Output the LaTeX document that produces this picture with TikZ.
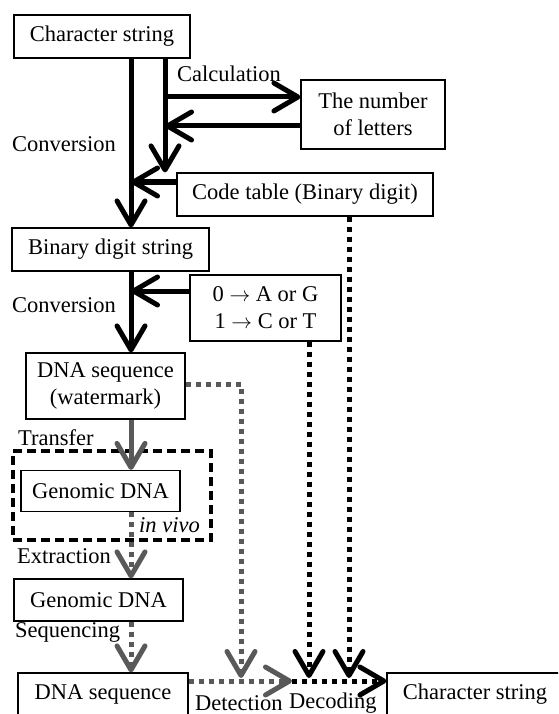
\documentclass[tikz,border=0pt]{standalone}
\usepackage{fontspec}
\setmainfont{Liberation Serif}
\usetikzlibrary{arrows.meta}
\definecolor{gcol}{RGB}{89,89,89}
\begin{document}
\begin{tikzpicture}[x=1pt,y=-1pt,
  box/.style={draw, line width=1.2pt, inner sep=0pt, align=center, font=\fontsize{22.5}{27}\selectfont},
  lbl/.style={anchor=west, inner sep=0pt, font=\fontsize{22.5}{27}\selectfont},
  arr/.style={-{Straight Barb[length=24pt,width=28pt,round]}},
  thk/.style={line width=5pt, draw=black},
  gsolid/.style={line width=5pt, draw=gcol},
  bdot/.style={line width=5pt, dash pattern=on 5pt off 5pt, draw=black},
  gdot/.style={line width=5pt, dash pattern=on 5pt off 5pt, draw=gcol},
]
\useasboundingbox (0,0) rectangle (558,714);
\clip (0,0) rectangle (558,714);

% nodes
\node[box, minimum width=176pt, minimum height=43pt] (cs1) at (102,36.5) {Character string};
\node[box, minimum width=144pt, minimum height=69pt] (nl) at (373,114.5) {The number\\of letters};
\node[box, minimum width=256pt, minimum height=43pt] (ct) at (305,194.5) {Code table (Binary digit)};
\node[box, minimum width=197pt, minimum height=43pt] (bin) at (110.5,249.5) {Binary digit string};
\node[box, minimum width=151pt, minimum height=66pt] (ag) at (265.5,308) {0 $\rightarrow$ A or G\\1 $\rightarrow$ C or T};
\node[box, minimum width=159pt, minimum height=66pt] (wm) at (105.5,386) {DNA sequence\\(watermark)};
\node[draw, line width=3.5pt, dash pattern=on 9pt off 5pt, minimum width=198pt, minimum height=89pt, inner sep=0pt] (vivo) at (112,495.5) {};
\node[box, minimum width=159pt, minimum height=41pt] (gd1) at (100.5,491) {Genomic DNA};
\node[box, minimum width=169pt, minimum height=42pt] (gd2) at (98.5,600) {Genomic DNA};
\node[box, minimum width=170pt, minimum height=43pt] (ds) at (103,694.5) {DNA sequence};
\node[box, minimum width=176pt, minimum height=43pt] (cs2) at (475,694.5) {Character string};

% labels
\node[lbl] (lcalc) at (177,74) {Calculation};
\node[lbl] (lconv1) at (12,144) {Conversion};
\node[lbl] (lconv2) at (12,305) {Conversion};
\node[lbl] (ltrans) at (18,438) {Transfer};
\node[lbl, font=\fontsize{22.5}{27}\selectfont\itshape] (lvivo) at (139,525) {in vivo};
\node[lbl] (lext) at (17,556) {Extraction};
\node[lbl] (lseq) at (15,632) {Sequencing};
\node[lbl] (ldet) at (195,703) {Detection};
\node[lbl] (ldec) at (289,703) {Decoding};

% helper coordinates
\coordinate (m) at (131,0);
\coordinate (v2) at (165,0);
\coordinate (ya) at (0,97);
\coordinate (yb) at (0,126);
\coordinate (yc) at (0,182);
\coordinate (yd) at (0,291);
\coordinate (ye) at (0,384);
\coordinate (yh) at (0,681);
\coordinate (gx) at (241,0);
\coordinate (bx1) at (309,0);
\coordinate (bx2) at (349,0);
\coordinate (tipy) at (0,678);
\coordinate (hm) at (292,681);

% black solid arrows
\draw[thk, arr] (cs1.south -| m) -- (bin.north -| m);
\draw[thk, arr] (cs1.south -| v2) -- (ct.north -| v2);
\draw[thk, arr] (v2 |- ya) -- (nl.west |- ya);
\draw[thk, arr] (nl.west |- yb) -- (v2 |- yb);
\draw[thk, arr] (ct.west |- yc) -- (m |- yc);
\draw[thk, arr] (bin.south -| m) -- (wm.north -| m);
\draw[thk, arr] (ag.west |- yd) -- (m |- yd);

% gray
\draw[gsolid, arr] (wm.south -| m) -- (gd1.north -| m);
\draw[gdot, arr] (gd1.south -| m) -- (gd2.north -| m);
\draw[gdot, arr] (gd2.south -| m) -- (ds.north -| m);
\draw[gdot, arr] (wm.east |- ye) -- (gx |- ye) -- (gx |- tipy);
\draw[gdot, arr] (ds.east |- yh) -- (hm);

% black dotted
\draw[bdot, arr] (hm) -- (cs2.west |- yh);
\draw[bdot, arr] (ag.south -| bx1) -- (bx1 |- tipy);
\draw[bdot, arr] (ct.south -| bx2) -- (bx2 |- tipy);
\end{tikzpicture}
\end{document}
